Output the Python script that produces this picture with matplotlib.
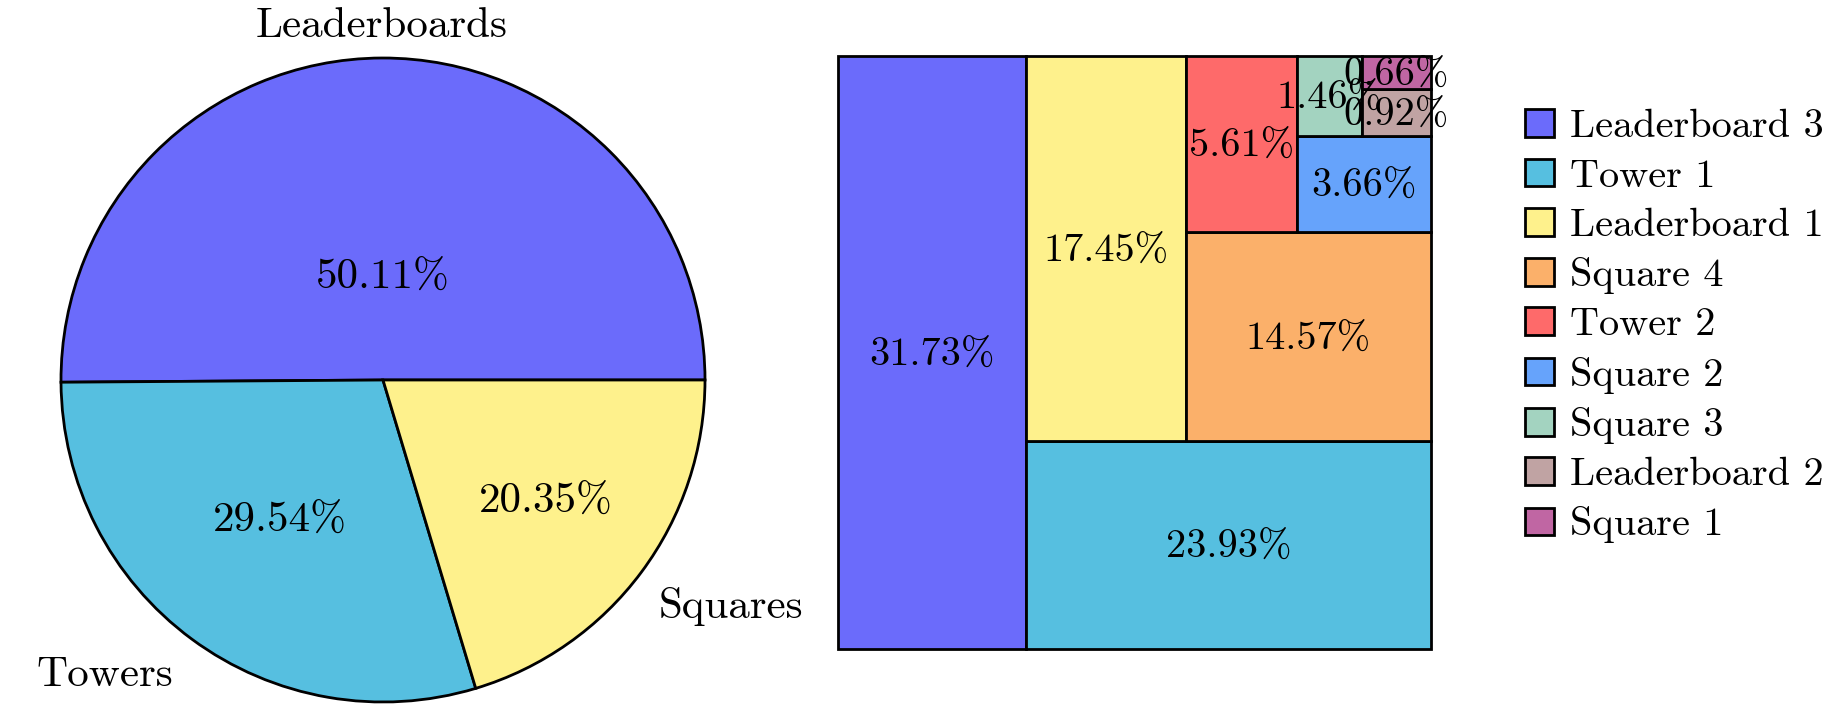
import numpy as np
import matplotlib
matplotlib.use("Agg")
import matplotlib.pyplot as plt
import matplotlib.transforms as mtransforms
from matplotlib.patches import Rectangle, Patch

plt.rcParams['font.family'] = ['cmr10', 'DejaVu Serif']
plt.rcParams['mathtext.fontset'] = 'cm'
plt.rcParams['axes.unicode_minus'] = False

# pie data
pie_labels = ['Leaderboards', 'Towers', 'Squares']
pie_values = [50.11, 29.54, 20.35]
pie_colors = ['#6b6bfb', '#56bfe0', '#fef18c']

# treemap data (sorted, largest first)
tm_labels = ['Leaderboard 3', 'Tower 1', 'Leaderboard 1', 'Square 4', 'Tower 2',
             'Square 2', 'Square 3', 'Leaderboard 2', 'Square 1']
tm_values = [31.73, 23.93, 17.45, 14.57, 5.61, 3.66, 1.46, 0.92, 0.66]
tm_colors = ['#6b6bfb', '#56bfe0', '#fef18c', '#fbb06a', '#fe6a6a',
             '#66a3fb', '#a3d3c0', '#c0a3a3', '#c066a3']


# treemap layout: one item per strip, strip along the shorter side
def treemap(sizes, x, y, dx, dy):
    rects = []
    for s in sizes:
        if dx >= dy:
            w = s / dy
            rects.append((x, y, w, dy))
            x, dx = x + w, dx - w
        else:
            h = s / dx
            rects.append((x, y, dx, h))
            y, dy = y + h, dy - h
    return rects


W, H = 1834, 711
fig = plt.figure(figsize=(W / 100, H / 100), dpi=100)

##########################################################################
# pie
ax1 = fig.add_axes([61 / W, 9 / H, 644 / W, 644 / H])
wedges, texts, autotexts = ax1.pie(pie_values, labels=pie_labels, colors=pie_colors,
                                   autopct='%.2f%%', labeldistance=1.1,
                                   wedgeprops=dict(edgecolor='black', linewidth=2),
                                   textprops=dict(fontsize=31))
ax1.set_xlim(-1, 1)
ax1.set_ylim(-1, 1)
ax1.set_aspect('equal')

pct_dist = [0.32, 0.54, 0.63]
for w, t, d in zip(wedges, autotexts, pct_dist):
    a = np.deg2rad((w.theta1 + w.theta2) / 2)
    t.set_position((d * np.cos(a), d * np.sin(a)))

# outer labels
texts[0].set_horizontalalignment('center')
texts[1].set_position((-0.652, -0.950))
texts[1].set_verticalalignment('baseline')
texts[2].set_position((0.857, -0.739))
texts[2].set_verticalalignment('baseline')

##########################################################################
# treemap
ax2 = fig.add_axes([838 / W, 62 / H, 593 / W, 593 / H])
total = sum(tm_values)
rects = treemap([v / total for v in tm_values], 0, 0, 1, 1)
txt_tr = mtransforms.offset_copy(ax2.transData, fig=fig, y=-13, units='dots')
for (x, y, dx, dy), c, v in zip(rects, tm_colors, tm_values):
    ax2.add_patch(Rectangle((x, y), dx, dy, facecolor=c, edgecolor='black',
                            linewidth=2, clip_on=False))
    ax2.text(x + dx / 2, y + dy / 2, '%.2f%%' % v, ha='center', va='baseline',
             fontsize=29, transform=txt_tr)
ax2.set_xlim(0, 1)
ax2.set_ylim(0, 1)
ax2.axis('off')

handles = [Patch(facecolor=c, edgecolor='black', linewidth=2) for c in tm_colors]
ax2.legend(handles, tm_labels, loc='center left', bbox_to_anchor=(1.1585, 0.544),
           frameon=False, fontsize=29, borderpad=0, borderaxespad=0,
           handlelength=0.72, handleheight=0.68, handletextpad=0.4,
           labelspacing=0.33)

plt.savefig('out.png', dpi=100)
plt.close()
